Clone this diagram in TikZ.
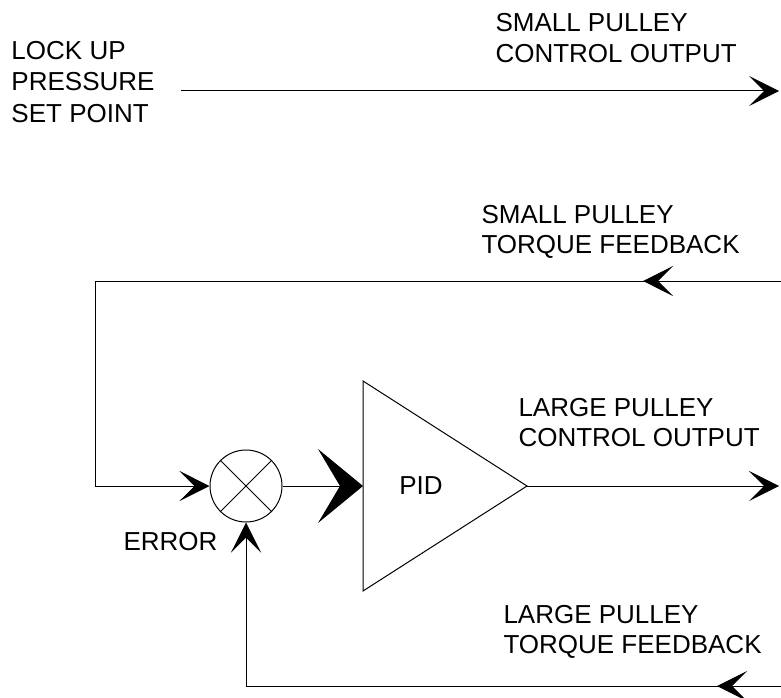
\documentclass[tikz,border=0pt]{standalone}
\usepackage{fontspec}
\setmainfont{Liberation Sans}
\usetikzlibrary{arrows.meta}
\begin{document}
\begin{tikzpicture}[x=1pt, y=-1pt, line width=1pt,
  lbl/.style={anchor=base west, inner sep=0pt, font=\fontsize{26}{30}\selectfont},
  tip/.style={-{Stealth[length=30pt,width=30pt,inset=15pt]}},
  bigtip/.style={-{Stealth[length=45pt,width=74pt,inset=22pt]}},
  sumjn/.style={draw, circle, minimum size=72pt, inner sep=0pt}]
\useasboundingbox (0,0) rectangle (781,698);

% labels
\node[lbl] (lockA) at (11,60)  {LOCK UP};
\node[lbl] (lockB) at (11,91)  {PRESSURE};
\node[lbl] (lockC) at (11,122) {SET POINT};
\node[lbl] (spcoA) at (495,32)  {SMALL PULLEY};
\node[lbl] (spcoB) at (495,63)  {CONTROL OUTPUT};
\node[lbl] (sptfA) at (481,223) {SMALL PULLEY};
\node[lbl] (sptfB) at (481,253) {TORQUE FEEDBACK};
\node[lbl] (lpcoA) at (518,416) {LARGE PULLEY};
\node[lbl] (lpcoB) at (518,446) {CONTROL OUTPUT};
\node[lbl] (lptfA) at (503,623) {LARGE PULLEY};
\node[lbl] (lptfB) at (503,653) {TORQUE FEEDBACK};
\node[lbl] (err)   at (123,550) {ERROR};

% set point line
\coordinate (spIn)  at (181,91);
\coordinate (spOut) at (779,91);
\draw[tip] (spIn) -- (spOut);

% summing junction
\node[sumjn] (sum) at (246,486) {};
\draw[line width=0.8pt] (sum.north west) -- (sum.south east)
                        (sum.north east) -- (sum.south west);

% PID amplifier
\coordinate (pidT) at (363,381);
\coordinate (pidB) at (363,591);
\coordinate (pidW) at (363,486);
\coordinate (pidE) at (527,486);
\draw (pidT) -- (pidE) -- (pidB) -- cycle;
\node[inner sep=0pt, font=\fontsize{26}{30}\selectfont] (pid) at (421,486) {PID};

\draw[bigtip] (sum.east) -- (pidW);
\coordinate (lpOut) at (779,486);
\draw[tip] (pidE) -- (lpOut);

% small pulley torque feedback loop
\coordinate (sfR)   at (781,281);
\coordinate (sfTip) at (643,281);
\coordinate (sfL)   at (95,281);
\coordinate (sfD)   at (95,486);
\draw (sfR) -- (sfL) -- (sfD);
\draw[tip] (sfR) -- (sfTip);
\draw[tip] (sfD) -- (sum.west);

% large pulley torque feedback loop
\coordinate (lfR)   at (781,686);
\coordinate (lfTip) at (717,686);
\coordinate (lfL)   at (246,686);
\draw (lfR) -- (lfL);
\draw[tip] (lfR) -- (lfTip);
\draw[tip] (lfL) -- (sum.south);
\end{tikzpicture}
\end{document}
